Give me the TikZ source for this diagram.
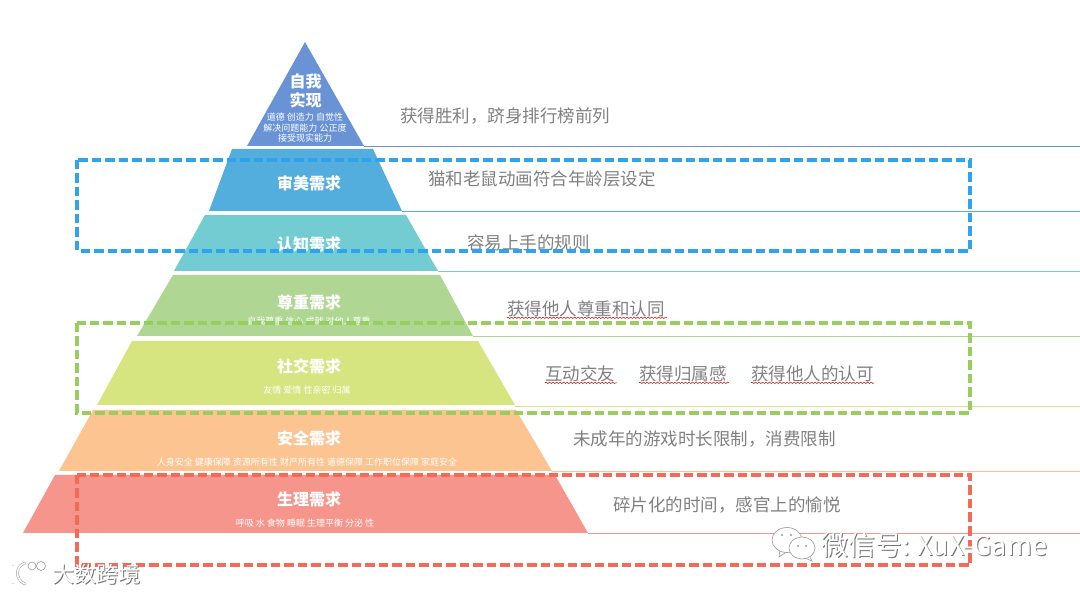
\documentclass[tikz,border=0pt]{standalone}
\usepackage{fontspec}
\setmainfont{Noto Sans CJK SC}
\usetikzlibrary{decorations.pathmorphing}
\definecolor{cA}{HTML}{6A93D6}
\definecolor{cB}{HTML}{53AEDD}
\definecolor{cC}{HTML}{72CCD2}
\definecolor{cD}{HTML}{B0D694}
\definecolor{cE}{HTML}{D6E57F}
\definecolor{cF}{HTML}{FBC491}
\definecolor{cG}{HTML}{F6958B}
\definecolor{boxB}{HTML}{2FA3EE}
\definecolor{boxG}{HTML}{97CF5E}
\definecolor{boxR}{HTML}{F56A57}
\definecolor{txt}{HTML}{808080}
\tikzset{
  x=1pt,y=-1pt,
  title/.style={text=white,font=\fontsize{16}{19}\selectfont\bfseries,inner sep=0pt,align=center},
  sub/.style={text=white,font=\fontsize{9}{10.5}\selectfont,inner sep=0pt,align=center},
  note/.style={text=txt,font=\fontsize{17.5}{20}\selectfont,inner sep=0pt,anchor=west},
  dashbox/.style={line width=3.2pt,dash pattern=on 9.5pt off 4pt},
  wavy/.style={draw=red!75!black,line width=.5pt,decorate,decoration={snake,amplitude=.7pt,segment length=3.5pt}},
  wm/.style={text=white,inner sep=0pt,anchor=west},
  wmshade/.style={text=black!55,inner sep=0pt,anchor=west},
  logoedge/.style={draw=black!40,fill=white,line width=.6pt},
  logoline/.style={draw=white,line width=1.6pt,line cap=round},
  logoback/.style={draw=black!40,line width=2.6pt,line cap=round},
}
\begin{document}
\begin{tikzpicture}
\useasboundingbox (0,0) rectangle (1080,593);
% guide lines
\draw[cA,line width=.8pt] (364,146) -- (1080,146);
\draw[cB,line width=.8pt] (402,211) -- (1080,211);
\draw[cC,line width=.8pt] (438,271) -- (1080,271);
\draw[cD,line width=.8pt] (473,336) -- (1080,336);
\draw[cE,line width=.8pt] (515,406) -- (1080,406);
\draw[cF,line width=.8pt] (552,471) -- (1080,471);
\draw[cG,line width=.8pt] (588,533) -- (1080,533);
% pyramid
\fill[cA] (305,42) -- (364,146) -- (247,146) -- cycle;
\fill[cB] (232,149) -- (373,149) -- (402,211) -- (209,211) -- cycle;
\fill[cC] (205,215) -- (406,215) -- (438,271) -- (174,271) -- cycle;
\fill[cD] (173,275) -- (440,275) -- (473,336) -- (137,336) -- cycle;
\fill[cE] (132,341) -- (478,341) -- (515,405) -- (97,405) -- cycle;
\fill[cF] (93,410) -- (516,410) -- (552,471) -- (59,471) -- cycle;
\fill[cG] (55,475) -- (555,475) -- (588,533) -- (23,533) -- cycle;
% level labels
\node[title] (t1) at (305.5,91) {自我\\实现};
\node[sub] (s1) at (305,128) {道德 创造力 自觉性\\解决问题能力 公正度\\接受现实能力};
\node[title] (t2) at (309,183) {审美需求};
\node[title] (t3) at (309,244) {认知需求};
\node[title] (t4) at (309,302.5) {尊重需求};
\node[sub] (s4) at (309,321) {自我尊重 信心 成就 对他人尊重};
\node[title] (t5) at (309,366) {社交需求};
\node[sub] (s5) at (307,390) {友情 爱情 性亲密 归属};
\node[title] (t6) at (309,438) {安全需求};
\node[sub] (s6) at (307,462) {人身安全 健康保障 资源所有性 财产所有性 道德保障 工作职位保障 家庭安全};
\node[title] (t7) at (309,499) {生理需求};
\node[sub] (s7) at (305,523) {呼吸 水 食物 睡眠 生理平衡 分泌 性};
% notes
\node[note] (n1) at (400,116) {获得胜利，跻身排行榜前列};
\node[note] (n2) at (428,179) {猫和老鼠动画符合年龄层设定};
\node[note] (n3) at (467,243) {容易上手的规则};
\node[note] (n4) at (507,309) {获得他人尊重和认同};
\node[note] (n5a) at (545,374) {互动交友};
\node[note] (n5b) at (639,374) {获得归属感};
\node[note] (n5c) at (751,374) {获得他人的认可};
\node[note] (n6) at (573,439) {未成年的游戏时长限制，消费限制};
\node[note] (n7) at (613,505) {碎片化的时间，感官上的愉悦};
% spell-check underlines
\draw[wavy] (n4.south west) ++(0,.5) -- ++(160,0);
\draw[wavy] (n5a.south west) ++(0,.5) -- ++(72,0);
\draw[wavy] (n5b.south west) ++(0,.5) -- ++(90,0);
\draw[wavy] (n5c.south west) ++(0,.5) -- ++(123,0);
% dashed boxes
\draw[boxB,dashbox] (77,160) rectangle (970,251);
\draw[boxG,dashbox] (77,323) rectangle (970,413);
\draw[boxR,dashbox] (77,475) rectangle (970,565);
% watermark, lower left
\node[wmshade,font=\fontsize{22}{24}\selectfont] at (52.9,574.9) {大数跨境};
\node[wm,font=\fontsize{22}{24}\selectfont] (wmA) at (52,574) {大数跨境};
\draw[logoback] (13,566) -- (13,583);
\draw[logoback] (25,563) .. controls (15,566) and (15,580) .. (25,584);
\draw[logoedge] (32,566) circle (4);
\draw[logoedge] (41,566) circle (4.5);
\draw[logoline] (13,566) -- (13,583);
\draw[logoline] (25,563) .. controls (15,566) and (15,580) .. (25,584);
% watermark, lower right
\node[wmshade,font=\fontsize{27}{29}\selectfont] at (821.9,545.9) {微信号: XuX-Game};
\node[wm,font=\fontsize{27}{29}\selectfont] (wmB) at (821,545) {微信号: XuX-Game};
\draw[logoedge] (780,549) -- (779,557) -- (788,551) -- cycle;
\draw[logoedge] (787,540) ellipse (15 and 12.5);
\draw[logoedge] (808,553) -- (812,561) -- (800,556) -- cycle;
\draw[logoedge] (802,548) ellipse (13 and 11);
\fill[black!40] (782,535) circle (1.1) (791,535) circle (1.1) (798,546) circle (1.1) (806,546) circle (1.1);
\end{tikzpicture}
\end{document}
